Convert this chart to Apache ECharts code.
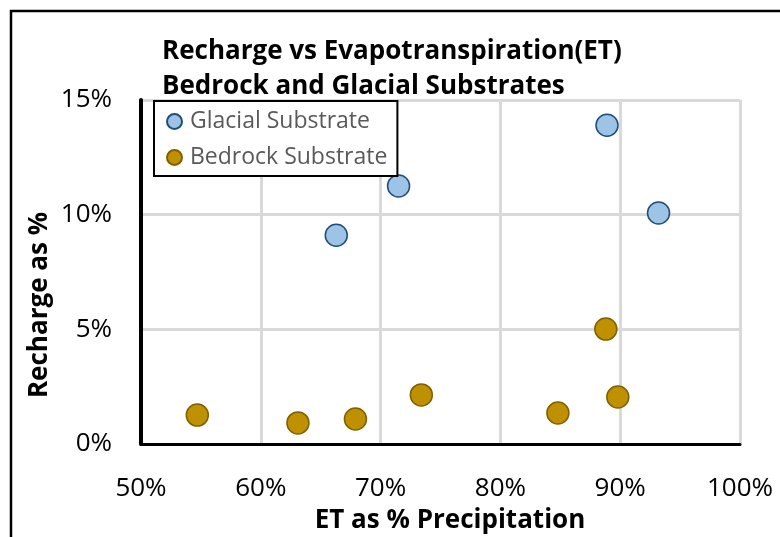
<!DOCTYPE html>
<html><head><meta charset="utf-8">
<script src="https://cdn.jsdelivr.net/npm/echarts@6/dist/echarts.min.js"></script>
<style>html,body{margin:0;padding:0;background:#fff}#c{width:780px;height:537px}</style>
</head><body><div id="c"></div>
<script>
const glacialET = [66.3, 71.5, 88.9, 93.2];
const glacialRecharge = [9.1, 11.25, 13.9, 10.07];
const bedrockET = [54.7, 63.1, 67.9, 73.4, 84.8, 88.8, 89.8];
const bedrockRecharge = [1.26, 0.92, 1.09, 2.14, 1.35, 5.01, 2.05];
const xTitle = 'ET as % Precipitation';
const yTitle = 'Recharge as %';
const FONT = '"Open Sans", sans-serif';

const chart = echarts.init(document.getElementById('c'));
chart.setOption({
  animation: false,
  title: {
    text: 'Recharge vs Evapotranspiration(ET)\nBedrock and Glacial Substrates',
    left: 157, top: 29,
    textStyle: {fontFamily: FONT, fontWeight: 'bold', fontSize: 26, color: '#000', lineHeight: 35}
  },
  legend: {
    orient: 'vertical', left: 154, top: 101,
    backgroundColor: '#fff', borderColor: '#000', borderWidth: 2,
    padding: [9, 10, 7, 12], itemGap: 13, itemWidth: 15, itemHeight: 15,
    textStyle: {fontFamily: FONT, fontSize: 23, color: '#595959', padding: [0, 0, 0, 3]},
    data: ['Glacial Substrate', 'Bedrock Substrate']
  },
  grid: {left: 141, right: 40, top: 100, bottom: 93},
  xAxis: {
    type: 'value', min: 50, max: 100, interval: 10,
    axisLine: {show: true, lineStyle: {color: '#000', width: 3}},
    axisTick: {show: false},
    axisLabel: {formatter: v => v + '%', fontFamily: FONT, fontSize: 26, color: '#000', margin: 32},
    splitLine: {show: true, lineStyle: {color: '#D9D9D9', width: 3}}
  },
  yAxis: {
    type: 'value', min: 0, max: 15, interval: 5,
    axisLine: {show: true, lineStyle: {color: '#000', width: 4}},
    axisTick: {show: false},
    axisLabel: {formatter: v => v + '%', fontFamily: FONT, fontSize: 26, color: '#000', margin: 29},
    splitLine: {show: true, lineStyle: {color: '#D9D9D9', width: 3}}
  },
  graphic: [
    {
      type: 'rect', shape: {x: 11, y: 11, width: 820, height: 600},
      style: {fill: 'none', stroke: '#000', lineWidth: 2.5}, silent: true, z: -1
    },
    {
      type: 'text', x: 450, y: 521, silent: true,
      style: {text: xTitle, fontFamily: FONT, fontWeight: 'bold', fontSize: 26, fill: '#000',
              align: 'center', verticalAlign: 'middle'}
    },
    {
      type: 'text', x: 40, y: 305, rotation: Math.PI / 2, silent: true,
      style: {text: yTitle, fontFamily: FONT, fontWeight: 'bold', fontSize: 26, fill: '#000',
              align: 'center', verticalAlign: 'middle'}
    }
  ],
  series: [
    {
      name: 'Glacial Substrate', type: 'scatter', symbol: 'circle', symbolSize: 22,
      itemStyle: {color: '#9DC3E6', borderColor: '#1F4E79', borderWidth: 1.5, opacity: 1},
      data: glacialET.map((x, i) => [x, glacialRecharge[i]])
    },
    {
      name: 'Bedrock Substrate', type: 'scatter', symbol: 'circle', symbolSize: 22,
      itemStyle: {color: '#BF9000', borderColor: '#7F6000', borderWidth: 1.5, opacity: 1},
      data: bedrockET.map((x, i) => [x, bedrockRecharge[i]])
    }
  ]
});
</script></body></html>
